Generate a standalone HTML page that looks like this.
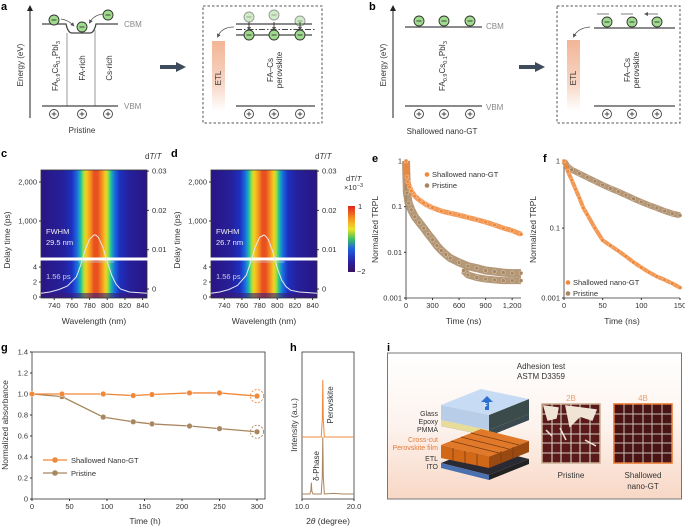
<!DOCTYPE html>
<html><head><meta charset="utf-8">
<style>
html,body{margin:0;padding:0;background:#fff;}
svg{display:block;font-family:"Liberation Sans",sans-serif;}
.t{font-size:7.5px;fill:#333;}
.lbl{font-size:11px;font-weight:bold;fill:#000;}
.ax{font-size:8px;fill:#333;}
.gr{font-size:8px;fill:#888;}
</style></head>
<body>
<svg id="fig" width="685" height="528" viewBox="0 0 685 528" xmlns="http://www.w3.org/2000/svg">
<defs id="defs">
<marker id="ah" markerWidth="6" markerHeight="6" refX="3" refY="3" orient="auto"><path d="M0,0 L6,3 L0,6z" fill="#222"/></marker>
<marker id="ahg" markerWidth="5" markerHeight="5" refX="2.5" refY="2.5" orient="auto"><path d="M0,0 L5,2.5 L0,5z" fill="#555"/></marker>
<linearGradient id="etl" x1="0" y1="0" x2="0" y2="1"><stop offset="0" stop-color="#f2b596"/><stop offset="0.6" stop-color="#f7d5c4"/><stop offset="1" stop-color="#fff"/></linearGradient>
<linearGradient id="ibg" x1="0" y1="0" x2="0" y2="1"><stop offset="0" stop-color="#fff"/><stop offset="0.5" stop-color="#fdf3ee"/><stop offset="1" stop-color="#f8d7c5"/></linearGradient>
<linearGradient id="cbar" x1="0" y1="0" x2="0" y2="1"><stop offset="0" stop-color="#e3221c"/><stop offset="0.2" stop-color="#f39a20"/><stop offset="0.35" stop-color="#eee22a"/><stop offset="0.5" stop-color="#3fc060"/><stop offset="0.65" stop-color="#1f5fe0"/><stop offset="0.85" stop-color="#2a20a0"/><stop offset="1" stop-color="#3a1060"/></linearGradient>
</defs>

<!-- Panel a -->
<g>
<text class="lbl" x="1" y="10">a</text>
<line x1="30" y1="118" x2="30" y2="8" stroke="#222" stroke-width="1" marker-end="url(#ah)"/>
<text class="ax" transform="translate(23,65) rotate(-90)" text-anchor="middle">Energy (eV)</text>
<path d="M42,24 L66,24 Q68,33 72,33 L90,33 Q94,33 96,24 L118,24" fill="none" stroke="#444" stroke-width="1.3"/>
<line x1="67" y1="33" x2="67" y2="106" stroke="#999" stroke-width="1"/>
<line x1="95" y1="30" x2="95" y2="106" stroke="#999" stroke-width="1"/>
<line x1="42" y1="106" x2="118" y2="106" stroke="#444" stroke-width="1.3"/>
<text class="gr" x="124" y="27">CBM</text>
<text class="gr" x="124" y="109">VBM</text>
<path d="M61,19 Q68,20 73,25" fill="none" stroke="#555" stroke-width="0.8" marker-end="url(#ahg)"/>
<path d="M103,14 Q94,15 90,22" fill="none" stroke="#555" stroke-width="0.8" marker-end="url(#ahg)"/>
<text class="ax" transform="translate(58,66) rotate(-90)" text-anchor="middle">FA<tspan font-size="5.5" dy="2">0.9</tspan><tspan dy="-2">Cs</tspan><tspan font-size="5.5" dy="2">0.1</tspan><tspan dy="-2">PbI</tspan><tspan font-size="5.5" dy="2">3</tspan></text>
<text class="ax" transform="translate(85,68) rotate(-90)" text-anchor="middle" font-size="9">FA-rich</text>
<text class="ax" transform="translate(112,68) rotate(-90)" text-anchor="middle" font-size="9">Cs-rich</text>
<text class="ax" x="82" y="133" text-anchor="middle">Pristine</text>
<path d="M160,67 L178,67" stroke="#3d4b5c" stroke-width="4"/><path d="M176,62 L186,67 L176,72z" fill="#3d4b5c"/>
<rect x="203" y="6" width="119" height="117" fill="none" stroke="#555" stroke-width="1" stroke-dasharray="2.5,2"/>
<rect x="212" y="41" width="13" height="70" fill="url(#etl)"/>
<text class="ax" transform="translate(221,78) rotate(-90)" text-anchor="middle" fill="#555">ETL</text>
<path d="M234,27 Q222,27 218,36" fill="none" stroke="#555" stroke-width="0.8" marker-end="url(#ahg)"/>
<line x1="236" y1="24" x2="312" y2="24" stroke="#444" stroke-width="1.3"/>
<line x1="236" y1="29.5" x2="315" y2="29.5" stroke="#444" stroke-width="1.1" stroke-dasharray="6,2,1.5,2"/>
<line x1="236" y1="35" x2="312" y2="35" stroke="#444" stroke-width="1.3"/>
<line x1="236" y1="106" x2="315" y2="106" stroke="#444" stroke-width="1.3"/>
<text class="ax" transform="translate(273,70) rotate(-90)" text-anchor="middle">FA–Cs</text>
<text class="ax" transform="translate(282,70) rotate(-90)" text-anchor="middle">perovskite</text>
</g>

<!-- Panel b -->
<g>
<text class="lbl" x="369" y="10">b</text>
<line x1="393" y1="118" x2="393" y2="8" stroke="#222" stroke-width="1" marker-end="url(#ah)"/>
<text class="ax" transform="translate(386,65) rotate(-90)" text-anchor="middle">Energy (eV)</text>
<line x1="405" y1="27" x2="482" y2="27" stroke="#444" stroke-width="1.3"/>
<line x1="405" y1="106" x2="482" y2="106" stroke="#444" stroke-width="1.3"/>
<text class="gr" x="486" y="29">CBM</text>
<text class="gr" x="486" y="110">VBM</text>
<text class="ax" transform="translate(445,66) rotate(-90)" text-anchor="middle">FA<tspan font-size="5.5" dy="2">0.9</tspan><tspan dy="-2">Cs</tspan><tspan font-size="5.5" dy="2">0.1</tspan><tspan dy="-2">PbI</tspan><tspan font-size="5.5" dy="2">3</tspan></text>
<text class="ax" x="442" y="134" text-anchor="middle">Shallowed nano-GT</text>
<path d="M519,67 L537,67" stroke="#3d4b5c" stroke-width="4"/><path d="M535,62 L545,67 L535,72z" fill="#3d4b5c"/>
<rect x="557" y="6" width="123" height="117" fill="none" stroke="#555" stroke-width="1" stroke-dasharray="2.5,2"/>
<rect x="567" y="40" width="13" height="71" fill="url(#etl)"/>
<text class="ax" transform="translate(576,78) rotate(-90)" text-anchor="middle" fill="#555">ETL</text>
<path d="M590,27 Q578,28 574,36" fill="none" stroke="#555" stroke-width="0.8" marker-end="url(#ahg)"/>
<line x1="594" y1="28" x2="675" y2="28" stroke="#444" stroke-width="1.3"/>
<line x1="594" y1="106" x2="675" y2="106" stroke="#444" stroke-width="1.3"/>
<path d="M609,14 L597,14 M633,14 L621,14 M658,14 L646,14" stroke="#555" stroke-width="0.8" marker-end="url(#ahg)"/>
<text class="ax" transform="translate(630,70) rotate(-90)" text-anchor="middle">FA–Cs</text>
<text class="ax" transform="translate(639,70) rotate(-90)" text-anchor="middle">perovskite</text>
</g>
<g id="carriers"></g>

<!-- charts -->
<g id="panelC"></g>
<g id="panelD"></g>
<g>
<text class="t" x="346" y="181" font-size="8">d<tspan font-style="italic">T</tspan>/<tspan font-style="italic">T</tspan></text>
<text class="t" x="344" y="190">×10<tspan font-size="5.5" dy="-3">−3</tspan></text>
<rect x="348" y="206" width="7" height="66" fill="url(#cbar)"/>
<text class="t" x="358" y="209" font-size="8">1</text>
<text class="t" x="357" y="274" font-size="8">−2</text>
</g>
<g id="panelE"></g>
<g id="panelF"></g>
<g id="panelG"></g>
<g id="panelH"></g>

<!-- Panel i -->
<g>
<text class="lbl" x="387" y="351">i</text>
<rect x="387.5" y="353" width="294" height="146" fill="url(#ibg)" stroke="#777" stroke-width="1"/>
<text class="ax" x="541" y="369" text-anchor="middle" fill="#555">Adhesion test</text>
<text class="ax" x="541" y="379" text-anchor="middle" fill="#555">ASTM D3359</text>
<polygon points="441,426 489,436 529,420 481,410" fill="#2a3a50"/>
<polygon points="441,422 489,432 529,416 481,406" fill="#f2e6a8"/>
<polygon points="441,420 489,430 489,436 441,426" fill="#e8dc9a"/>
<polygon points="489,430 529,414 529,420 489,436" fill="#3a4a50"/>
<polygon points="441,405 489,415 489,430 441,420" fill="#b7cde8"/>
<polygon points="489,415 529,399 529,414 489,430" fill="#3b4b4b"/>
<polygon points="441,405 489,415 529,399 481,389" fill="#c7dcf4"/>
<path d="M485,410 L485,402 L481,402 L487,396 L493,402 L489,402 L489,410z" fill="#2f6fd0"/>
<text x="484.5" y="407" font-size="5" fill="#fff" font-weight="bold">F</text>
<polygon points="441,463 489,475 529,459 481,447" fill="#2a2a35"/>
<polygon points="441,463 489,475 489,480 441,468" fill="#4a70b0"/>
<polygon points="489,475 529,459 529,464 489,480" fill="#222"/>
<polygon points="441,445 489,457 529,441 481,429" fill="#e07a2a"/>
<polygon points="441,445 489,457 489,468 441,458" fill="#d06818"/>
<polygon points="489,457 529,441 529,452 489,468" fill="#9a4a10"/>
<path d="M453,448 L453,460 M465,451 L465,463 M477,454 L477,466 M451,441 L499,453 M461,437 L509,449 M471,433 L519,445 M501,451 L501,462 M513,447 L513,458" stroke="#7a3a10" stroke-width="0.8"/>
<text x="457" y="479" font-size="4" fill="#dde">1 mm</text>
<g font-size="7" text-anchor="end">
<text x="438" y="416" fill="#333">Glass</text><text x="438" y="424" fill="#333">Epoxy</text><text x="438" y="432" fill="#333">PMMA</text>
<text x="438" y="442" fill="#e37a3a">Cross-cut</text><text x="438" y="450" fill="#e37a3a">Perovskite film</text>
<text x="438" y="461" fill="#333">ETL</text><text x="438" y="469" fill="#333">ITO</text>
</g>
<text x="571" y="401" font-size="8" fill="#e8a070" text-anchor="middle">2B</text>
<text x="643" y="401" font-size="8" fill="#e8a070" text-anchor="middle">4B</text>
<rect x="542" y="404" width="58" height="59" fill="#5a1a1a" stroke="#c9ad90" stroke-width="1.5"/>
<rect x="614" y="404" width="58" height="59" fill="#4a1414" stroke="#e8742a" stroke-width="1.5"/>
<path d="M552,404V463M561,404V463M571,404V463M580,404V463M590,404V463M542,414H600M542,424H600M542,434H600M542,443H600M542,453H600" stroke="#d8d0c8" stroke-width="1.1"/>
<path d="M624,404V463M633,404V463M643,404V463M652,404V463M662,404V463M614,414H672M614,424H672M614,434H672M614,443H672M614,453H672" stroke="#c8c0b8" stroke-width="1"/>
<path d="M544,406 L558,408 L556,418 L548,420z M566,406 L596,410 L592,420 L580,416 L570,426z M546,430 L552,436 M560,428 L566,440 M585,440 L596,446" fill="#efe4d6" stroke="#efe4d6" stroke-width="1.5"/>
<text class="ax" x="571" y="478" text-anchor="middle" font-size="9">Pristine</text>
<text class="ax" x="643" y="478" text-anchor="middle" font-size="9">Shallowed</text>
<text class="ax" x="643" y="489" text-anchor="middle" font-size="9">nano-GT</text>
</g>
</svg>

<script>
// ===== data =====
const eTimeShallow = [0,10,20,40,60,100,150,200,250,300,400,500,600,700,800,900,1000,1100,1200,1300];
const eValShallow = [1,0.45,0.35,0.27,0.22,0.17,0.14,0.12,0.105,0.095,0.08,0.072,0.065,0.058,0.052,0.046,0.04,0.034,0.03,0.025];
const eTimePristine = [0,10,30,60,100,150,200,250,300,350,400,450,500,600,700,800,900,1000,1100,1200,1300];
const eValPristine = [1,0.2,0.12,0.085,0.06,0.045,0.034,0.025,0.019,0.014,0.011,0.009,0.0075,0.006,0.005,0.0045,0.004,0.0038,0.0036,0.0035,0.0035];
const eFloorTimes = [650,700,800,900,1000,1100,1200,1300];
const eFloorVals = [0.004,0.0032,0.0028,0.0026,0.0025,0.0024,0.0024,0.0024];
const eXTicks = [0,300,600,900,1200];
const eXTickLabels = ['0','300','600','900','1,200'];
const eYTicks = [1,0.1,0.01,0.001];
const eYTickLabels = ['1','0.1','0.01','0.001'];

const fTimePristine = [0,5,10,20,30,40,50,60,70,80,90,100,110,120,130,140,150];
const fValPristine = [1,0.82,0.74,0.65,0.57,0.5,0.44,0.39,0.35,0.31,0.275,0.245,0.22,0.2,0.18,0.165,0.155];
const fTimeShallow = [0,5,10,15,20,25,30,40,50,60,70,80,90,100,110,120,130,140,150];
const fValShallow = [1,0.7,0.52,0.38,0.28,0.2,0.16,0.1,0.066,0.055,0.046,0.038,0.031,0.026,0.022,0.019,0.017,0.015,0.013];
const fXTicks = [0,50,100,150];
const fYTicks = [1,0.1,0.0091];
const fYTickLabels = ['1','0.1','0.001'];

const gTimes = [0,40,95,135,160,210,250,300];
const gShallow = [1.0,1.0,1.0,0.985,0.995,1.01,1.01,0.98];
const gPristine = [1.0,0.975,0.78,0.735,0.715,0.695,0.67,0.64];
const gXTicks = [0,50,100,150,200,250,300];
const gYTicks = [0,0.2,0.4,0.6,0.8,1.0,1.2,1.4];

const hAngles = [10,11.5,11.7,11.8,11.9,12.1,13.7,13.9,14.0,14.1,14.3,16,18,20];
const hPerovskite = [0,0,0,0,0,0,0,0.3,1,0.3,0,0,0,0];
const hPristine = [0,0,0.05,0.2,0.05,0,0,0.3,1,0.3,0,0.01,0,0];

const cWl = [725,735,745,755,765,770,775,780,785,787,790,795,800,805,810,815,825,835,845];
const cSpec = [0.03,0.05,0.09,0.15,0.3,0.5,0.75,0.93,1.0,1.0,0.96,0.8,0.55,0.33,0.18,0.1,0.05,0.04,0.03];
const dSpec = [0.03,0.05,0.09,0.16,0.33,0.55,0.8,0.96,1.0,0.98,0.92,0.72,0.45,0.25,0.14,0.08,0.05,0.04,0.03];
const cLeftTicksTop = [1000,2000];
const cLeftTicksBot = [0,2,4];
const cRightTicks = [0,0.01,0.02,0.03];
const cXTicks = [740,760,780,800,820,840];

const NS='http://www.w3.org/2000/svg';
const ORANGE='#f0883a', BROWN='#a8865f';
function mk(parent, tag, attrs, txt){const e=document.createElementNS(NS,tag);for(const k in attrs)e.setAttribute(k,attrs[k]);if(txt!==undefined)e.textContent=txt;parent.appendChild(e);return e;}
function tx(parent,x,y,s,anchor,size,fill){return mk(parent,'text',{x:x,y:y,'text-anchor':anchor||'middle','font-size':size||7.5,fill:fill||'#333'},s);}

// ===== carriers (panels a, b) =====
const car=document.getElementById('carriers');
function electron(x,y,op){const g=mk(car,'g',{opacity:op||1});


mk(g,'circle',{cx:x,cy:y,r:5,fill:'#9edb8c',stroke:'#333','stroke-width':0.9});mk(g,'line',{x1:x-2.5,y1:y,x2:x+2.5,y2:y,stroke:'#333','stroke-width':0.9});}
function hole(x,y){const g=mk(car,'g',{});


mk(g,'circle',{cx:x,cy:y,r:4.5,fill:'#fff',stroke:'#444','stroke-width':0.9});mk(g,'path',{d:`M${x-2.3},${y}H${x+2.3}M${x},${y-2.3}V${y+2.3}`,stroke:'#444','stroke-width':0.9});}
electron(54,20);electron(82,27);electron(108,15);
[54,82,108].forEach(x=>hole(x,114));
[249,274,300].forEach((x,i)=>{electron(x,[17,15,21][i],0.5);mk(car,'line',{x1:x,y1:22,x2:x,y2:29,stroke:'#222','stroke-width':0.8,'marker-end':'url(#ahg)'});electron(x,35);hole(x,114);});
[419,444,470].forEach(x=>{electron(x,21);hole(x,114);});
[607,632,657].forEach(x=>{electron(x,22);hole(x,114);});

// ===== panels c, d =====
const defs=document.getElementById('defs');
function heat(id,ox,label,fwhm,spec,center){
 const g=document.getElementById(id);
 const L=ox+41,R=ox+147,T=170,B=298,brk=259;
 const xs=w=>L+(w-725)/120*(R-L);
 const gid='hg'+id;
 const grad=mk(defs,'linearGradient',{id:gid,x1:'0',x2:'1',y1:'0',y2:'0'});
 const c=center;
 const stops=[[725,'#2a1585'],[c-37,'#25209a'],[c-27,'#1e30c0'],[c-21,'#1a70e0'],[c-17,'#20c0a0'],[c-14,'#a0e040'],[c-11,'#f5d020'],[c-6,'#f59020'],[c-2,'#e8501f'],[c+2,'#e8501f'],[c+7,'#f59020'],[c+11,'#f5d020'],[c+14,'#a0e040'],[c+17,'#20c0a0'],[c+21,'#1a70e0'],[c+27,'#1e30c0'],[c+38,'#25209a'],[845,'#2a1585']];
 stops.forEach(s=>mk(grad,'stop',{offset:((s[0]-725)/120).toFixed(4),'stop-color':s[1]}));
 const hm=mk(g,'rect',{x:L,y:T,width:R-L,height:B-T,fill:`url(#${gid})`});
 
 
 mk(g,'rect',{x:L,y:B-5,width:R-L,height:5,fill:'#3a1a7a',opacity:0.6});
 mk(g,'rect',{x:L,y:T,width:R-L,height:B-T,fill:'none',stroke:'#333','stroke-width':0.8});
 const wb=mk(g,'line',{x1:L-2,y1:brk,x2:R+2,y2:brk,stroke:'#fff','stroke-width':3});
 
 
 const ytTop=v=>182-(v-2000)*0.039;
 cLeftTicksTop.forEach(v=>{const y=ytTop(v);mk(g,'line',{x1:L-2,y1:y,x2:L,y2:y,stroke:'#333'});tx(g,L-4,y+2.5,v.toLocaleString('en-US'),'end',7.5);});
 const ytBot=v=>297-v*7.5;
 cLeftTicksBot.forEach(v=>{const y=ytBot(v);mk(g,'line',{x1:L-2,y1:y,x2:L,y2:y,stroke:'#333'});tx(g,L-4,y+2.5,String(v),'end',7.5);});
 const yr=v=>289-v*3930;
 cRightTicks.forEach(v=>{const y=yr(v);mk(g,'line',{x1:R,y1:y,x2:R+2,y2:y,stroke:'#333'});tx(g,R+5,y+2.5,v===0?'0':v.toFixed(2),'start',7.5);});
 cXTicks.forEach(v=>{const x=xs(v);mk(g,'line',{x1:x,y1:B,x2:x,y2:B+2,stroke:'#333'});tx(g,x,B+10,String(v),'middle',7.5);});
 const pts=cWl.map((w,i)=>`${xs(w)},${295-spec[i]*60}`).join(' ');
 const pl=mk(g,'polyline',{points:pts,fill:'none',stroke:'#e8e8f0','stroke-width':1});
 
 
 mk(g,'line',{x1:xs(768),y1:262,x2:xs(808),y2:262,stroke:'#ccd',opacity:0.7,'stroke-width':1});
 tx(g,L+5,234,'FWHM','start',7.5,'#eee');
 tx(g,L+5,245,fwhm+' nm','start',7.5,'#eee');
 tx(g,L+5,279,'1.56 ps','start',7.5,'#ccd');
 const dt=mk(g,'text',{x:R-2,y:159,'font-size':8,fill:'#333'});dt.innerHTML='d<tspan font-style="italic">T</tspan>/<tspan font-style="italic">T</tspan>';
 const yl=mk(g,'text',{transform:`translate(${ox+10},240) rotate(-90)`,'text-anchor':'middle','font-size':8.5,fill:'#333'},'Delay time (ps)');
 
 
 const xl=tx(g,(L+R)/2,324,'Wavelength (nm)','middle',8.5);
 
 
 const lb=mk(g,'text',{x:ox+1,y:157,class:'lbl'},label);
 
 
}
heat('panelC',0,'c','29.5',cSpec,787);
heat('panelD',170,'d','26.7',dSpec,785);

// ===== log plots e, f =====
function logPlot(id,o){
 const g=document.getElementById(id);
 const {L,R,T,B,xmax,ymin}=o;
 const xs=v=>L+v/xmax*(R-L);
 const ys=v=>T+Math.log10(1/v)/Math.log10(1/ymin)*(B-T);
 mk(g,'path',{d:`M${L},${T}V${B}H${R}`,fill:'none',stroke:'#333','stroke-width':0.8});
 o.yt.forEach((v,i)=>{const y=ys(v);mk(g,'line',{x1:L-2,y1:y,x2:L,y2:y,stroke:'#333'});tx(g,L-4,y+2.5,o.ytl[i],'end',7.5);});
 o.xt.forEach((v,i)=>{const x=xs(v);mk(g,'line',{x1:x,y1:B,x2:x,y2:B+2,stroke:'#333'});tx(g,x,B+10,o.xtl[i],'middle',7.5);});
 function series(T_,V_,col,w,name){
  const pl=mk(g,'polyline',{points:T_.map((t,i)=>`${xs(t)},${ys(V_[i])}`).join(' '),fill:'none',stroke:col,'stroke-width':w,'stroke-linejoin':'round',opacity:0.85});
  
  
  T_.forEach((t,i)=>{const c=mk(g,'circle',{cx:xs(t),cy:ys(V_[i]),r:2,fill:col,stroke:'#fff','stroke-width':0.3});
  
  });
 }
 if(o.ft) series(o.ft,o.fv,BROWN,7,'pristine-floor');
 series(o.pt,o.pv,BROWN,o.pw,'pristine');
 series(o.st,o.sv,ORANGE,o.sw,'shallowed');
 const yl=mk(g,'text',{transform:`translate(${L-28},${(T+B)/2}) rotate(-90)`,'text-anchor':'middle','font-size':8.5,fill:'#333'},'Normalized TRPL');
 
 
 const xl=tx(g,(L+R)/2,324,'Time (ns)','middle',8.5);
 
 
 const lb=mk(g,'text',{x:o.lx,y:162,class:'lbl'},o.label);
 
 
 [[ORANGE,'Shallowed nano-GT',o.legY],[BROWN,'Pristine',o.legY+11]].forEach(l=>{
  const c=mk(g,'circle',{cx:o.legX,cy:l[2]-2.5,r:2.3,fill:l[0]});
  
  
  const t=tx(g,o.legX+5,l[2],l[1],'start',7.5);
  
  
 });
}
logPlot('panelE',{L:406,R:521,T:161,B:298,xmax:1300,ymin:0.001,yt:eYTicks,ytl:eYTickLabels,xt:eXTicks,xtl:eXTickLabels,st:eTimeShallow,sv:eValShallow,pt:eTimePristine,pv:eValPristine,ft:eFloorTimes,fv:eFloorVals,sw:5,pw:8,label:'e',lx:372,legX:427,legY:177});
logPlot('panelF',{L:564,R:680,T:161,B:298,xmax:150,ymin:0.0091,yt:fYTicks,ytl:fYTickLabels,xt:fXTicks,xtl:fXTicks.map(String),st:fTimeShallow,sv:fValShallow,pt:fTimePristine,pv:fValPristine,sw:4,pw:6,label:'f',lx:543,legX:568,legY:285});

// ===== panel g =====
(function(){
 const g=document.getElementById('panelG');
 const L=32,R=265,T=352,B=499;
 const xs=v=>L+v*0.75, ys=v=>B-v/1.4*(B-T);
 mk(g,'rect',{x:L,y:T,width:R-L,height:B-T,fill:'none',stroke:'#333','stroke-width':0.8});
 gYTicks.forEach(v=>{const y=ys(v);mk(g,'line',{x1:L-2,y1:y,x2:L,y2:y,stroke:'#333'});tx(g,L-4,y+2.5,v===0?'0':v.toFixed(1),'end',7.5);});
 gXTicks.forEach(v=>{const x=xs(v);mk(g,'line',{x1:x,y1:B,x2:x,y2:B+2,stroke:'#333'});tx(g,x,B+10,String(v),'middle',7.5);});
 [[gPristine,BROWN,'pristine'],[gShallow,ORANGE,'shallowed']].forEach(s=>{
  const pts=gTimes.map((t,i)=>[xs(t),ys(s[0][i])]);
  const d='M'+pts.map(p=>p.join(',')).join(' L');
  const p=mk(g,'path',{d:d,fill:'none',stroke:s[1],'stroke-width':1.3});
  
  
  pts.forEach(p=>{const c=mk(g,'circle',{cx:p[0],cy:p[1],r:2.8,fill:s[1],stroke:'#fff','stroke-width':0.4});
  
  });
  const last=pts[pts.length-1];
  const dc=mk(g,'circle',{cx:last[0],cy:last[1],r:6.5,fill:'none',stroke:s[1],'stroke-dasharray':'2,1.5','stroke-width':0.9});
  
  
 });
 [[ORANGE,'Shallowed Nano-GT',460],[BROWN,'Pristine',473]].forEach(l=>{
  mk(g,'line',{x1:43,y1:l[2],x2:67,y2:l[2],stroke:l[0],'stroke-width':1.3});
  mk(g,'circle',{cx:55,cy:l[2],r:2.8,fill:l[0]});
  const t=tx(g,71,l[2]+3,l[1],'start',7.5);
  
  
 });
 const yl=mk(g,'text',{transform:`translate(8,425) rotate(-90)`,'text-anchor':'middle','font-size':8.5,fill:'#333'},'Normalized absorbance');
 
 
 const xl=tx(g,145,524,'Time (h)','middle',8.5);
 
 
 const lb=mk(g,'text',{x:1,y:351,class:'lbl'},'g');
 
 
})();

// ===== panel h =====
(function(){
 const g=document.getElementById('panelH');
 const L=302,R=354,T=352,B=499;
 const xs=v=>L+(v-10)/10*(R-L);
 mk(g,'rect',{x:L,y:T,width:R-L,height:B-T,fill:'none',stroke:'#333','stroke-width':0.8});
 [10,20].forEach(v=>{const x=xs(v);mk(g,'line',{x1:x,y1:B,x2:x,y2:B+2,stroke:'#333'});tx(g,x,B+10,v.toFixed(1),'middle',7.5);});
 const p1=mk(g,'polyline',{points:hAngles.map((a,i)=>`${xs(a)},${437-hPerovskite[i]*57}`).join(' '),fill:'none',stroke:ORANGE,'stroke-width':1});
 
 
 const p2=mk(g,'polyline',{points:hAngles.map((a,i)=>`${xs(a)},${494-hPristine[i]*57}`).join(' '),fill:'none',stroke:BROWN,'stroke-width':1});
 
 
 mk(g,'text',{transform:'translate(333,405) rotate(-90)','text-anchor':'middle','font-size':8,fill:'#333'},'Perovskite');
 mk(g,'text',{transform:'translate(319,466) rotate(-90)','text-anchor':'middle','font-size':8,fill:'#333'},'δ-Phase');
 const yl=mk(g,'text',{transform:'translate(297,425) rotate(-90)','text-anchor':'middle','font-size':8.5,fill:'#333'},'Intensity (a.u.)');
 
 
 const xl=mk(g,'text',{x:328,y:524,'text-anchor':'middle','font-size':8.5,fill:'#333'});
 xl.innerHTML='2<tspan font-style="italic">θ</tspan> (degree)';
 
 
 const lb=mk(g,'text',{x:290,y:351,class:'lbl'},'h');
 
 
})();
</script>
</body></html>
